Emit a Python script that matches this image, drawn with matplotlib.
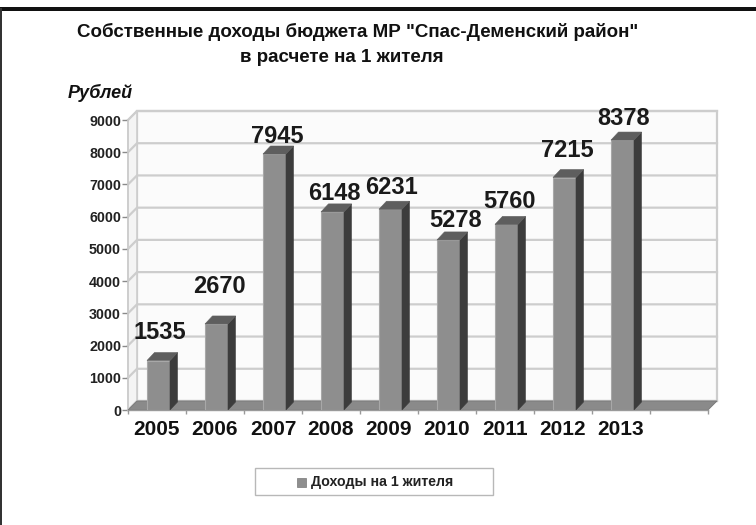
import matplotlib
matplotlib.use("Agg")
import matplotlib.pyplot as plt
from matplotlib.patches import Polygon, Rectangle

years = ["2005", "2006", "2007", "2008", "2009", "2010", "2011", "2012", "2013"]
income = [1535, 2670, 7945, 6148, 6231, 5278, 5760, 7215, 8378]
y_ticks = [0, 1000, 2000, 3000, 4000, 5000, 6000, 7000, 8000, 9000]
title = 'Собственные доходы бюджета МР "Спас-Деменский район"'
subtitle = "в расчете на 1 жителя"
y_title = "Рублей"
legend_label = "Доходы на 1 жителя"
# vertical / horizontal nudges of the data labels, in pixels
label_dy = [28.5, 37, 17, 18, 22, 19, 23, 27.5, 22]
label_dx = [3, 4, 4, 3, 3, 9, 4, 4, 3]

W, H = 756, 525
plt.rcParams["font.family"] = ["Liberation Sans", "DejaVu Sans"]
fig = plt.figure(figsize=(W / 100, H / 100), dpi=100, facecolor="white")

L, R, T, B = 128, 708, 120, 410
ax = fig.add_axes([L / W, 1 - B / H, (R - L) / W, (B - T) / H])
n_slots = 10
ax.set_xlim(0, n_slots)
ax.set_ylim(0, 9000)
ax.patch.set_visible(False)
for s in ax.spines.values():
    s.set_visible(False)

px_x = n_slots / (R - L)          # data per pixel, x
px_y = 9000 / (B - T)             # data per pixel, y
dx, dy = 9 * px_x, 9 * px_y       # depth of the chart box
bx, by = 7.5 * px_x, 8 * px_y     # depth of the bars
bw = 23 * px_x
ymax = y_ticks[-1]
GRID = "#cdcdcd"

# back wall + side wall
ax.add_patch(Polygon([(dx, dy), (n_slots + dx, dy), (n_slots + dx, ymax + dy), (dx, ymax + dy)],
                     fc="#fbfbfb", ec=GRID, lw=1.6, clip_on=False, zorder=1))
ax.add_patch(Polygon([(0, 0), (dx, dy), (dx, ymax + dy), (0, ymax)],
                     fc="#f4f4f4", ec=GRID, lw=1.2, clip_on=False, zorder=1))
for v in y_ticks:
    ax.plot([0, dx, n_slots + dx], [v, v + dy, v + dy], color=GRID, lw=1.6,
            clip_on=False, zorder=1.5, solid_joinstyle="miter")

# floor
ax.add_patch(Polygon([(0, 0), (n_slots, 0), (n_slots + dx, dy), (dx, dy)],
                     fc="#8a8a8a", ec="#777777", lw=0.6, clip_on=False, zorder=2))

# bars
centers = [i + 0.5 for i in range(len(income))]
for c, v in zip(centers, income):
    x0 = c - bw / 2 + 1.5 * px_x
    x1 = x0 + bw
    ax.bar(x0, v, width=bw, align="edge", color="#8e8e8e", edgecolor="#a8a8a8", linewidth=0.8, zorder=4)
    ax.add_patch(Polygon([(x1, 0), (x1 + bx, by), (x1 + bx, v + by), (x1, v)],
                         fc="#3c3c3c", ec="#3c3c3c", lw=0.4, zorder=4))
    ax.add_patch(Polygon([(x0, v), (x1, v), (x1 + bx, v + by), (x0 + bx, v + by)],
                         fc="#5e5e5e", ec="#5e5e5e", lw=0.4, zorder=4))

# data labels
for c, v, ddy, ddx in zip(centers, income, label_dy, label_dx):
    ax.annotate(str(v), (c, v), xytext=(ddx * 0.72, ddy * 0.72), textcoords="offset points",
                ha="center", va="center", fontsize=17, fontweight="bold", color="#1a1a1a", zorder=6)

# axis ticks
ax.set_yticks(y_ticks)
ax.tick_params(axis="y", length=4, width=1, color="#8a8a8a", labelsize=10.3, pad=1, labelcolor="#222222")
for t in ax.get_yticklabels():
    t.set_fontweight("bold")
ax.set_xticks(centers)
ax.set_xticklabels(years, fontsize=15, fontweight="bold", color="#111111")
ax.tick_params(axis="x", length=0, pad=7)
ax.set_xticks(range(n_slots + 1), minor=True)
ax.tick_params(axis="x", which="minor", length=3, width=1, color="#999999")
ax.plot([0, 0], [0, ymax], color=GRID, lw=1.2, clip_on=False, zorder=1.6)
ax.plot([0, n_slots], [0, 0], color="#9a9a9a", lw=1, clip_on=False, zorder=3)

# figure-level text, in pixel coordinates
def px(x, y):
    return x / W, 1 - y / H

fig.text(*px(358, 32), title, ha="center", va="center", fontsize=13.5, fontweight="bold", color="#111111")
fig.text(*px(342, 57), subtitle, ha="center", va="center", fontsize=13.5, fontweight="bold", color="#111111")
fig.text(*px(68, 93), y_title, ha="left", va="center", fontsize=13, fontweight="bold", style="italic", color="#111111")

# frame
fig.add_artist(Rectangle(px(0, 11), 1, 4.5 / H, transform=fig.transFigure, fc="#111111", ec="none"))
fig.add_artist(Rectangle(px(0, H), 2 / W, (H - 8) / H, transform=fig.transFigure, fc="#333333", ec="none"))

# legend
fig.add_artist(Rectangle(px(255, 495), 238 / W, 27 / H, transform=fig.transFigure, fc="white", ec="#b8b8b8", lw=1.0))
fig.add_artist(Rectangle(px(297, 487), 9 / W, 9 / H, transform=fig.transFigure, fc="#8e8e8e", ec="#777777", lw=0.5))
fig.text(*px(311, 482), legend_label, ha="left", va="center", fontsize=10.2, fontweight="bold", color="#222222")

fig.savefig("out.png", dpi=100)
